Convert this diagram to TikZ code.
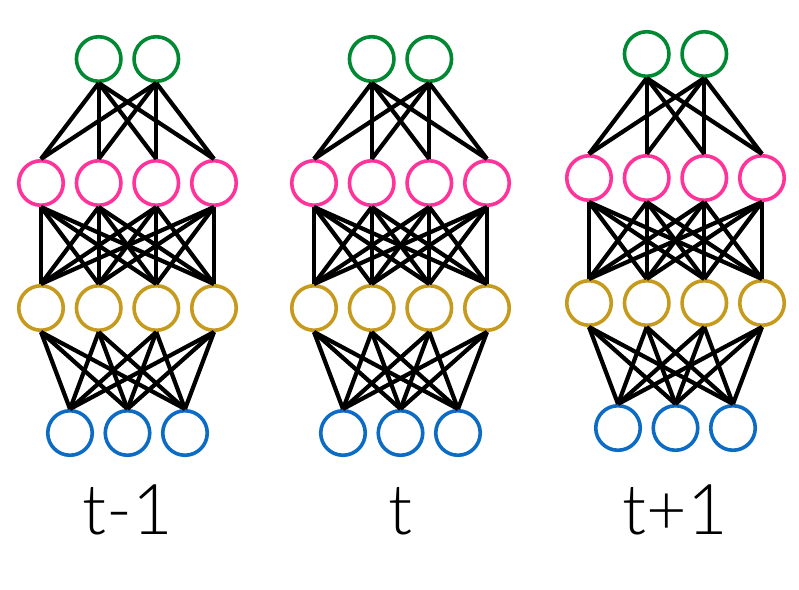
\documentclass[tikz,border=0pt]{standalone}
\usepackage{fontspec}
\setsansfont{Lato Light}
\definecolor{cG}{RGB}{0,137,50}
\definecolor{cP}{RGB}{255,51,153}
\definecolor{cY}{RGB}{198,154,28}
\definecolor{cB}{RGB}{12,108,196}
\begin{document}
\begin{tikzpicture}[x=1pt,y=-1pt,
  neuron/.style={circle,draw,line width=3.6pt,minimum size=44.5pt,inner sep=0pt},
  link/.style={line width=4.2pt,black},
  lab/.style={font=\sffamily\fontsize{70}{70}\selectfont,anchor=base,inner sep=0pt}]
\useasboundingbox (0,0) rectangle (799,589);
\foreach \k/\dx/\dy/\lab in {1/0/0/{t-1},2/273/0/{t},3/548/-5/{t+1}} {
  \begin{scope}[shift={(\dx,\dy)}]
    \foreach \i/\x in {1/98.7,2/156.3}
      \node[neuron,draw=cG] (g\k\i) at (\x,59) {};
    \foreach \i/\x in {1/41,2/98.7,3/156.3,4/214}{
      \node[neuron,draw=cP] (p\k\i) at (\x,183) {};
      \node[neuron,draw=cY] (y\k\i) at (\x,308) {};
    }
    \foreach \i/\x in {1/70,2/127.5,3/185}
      \node[neuron,draw=cB] (b\k\i) at (\x,433) {};
    \foreach \i in {1,2}
      \foreach \j in {1,...,4}
        \draw[link] (g\k\i.south) -- (p\k\j.north);
    \foreach \i in {1,...,4}
      \foreach \j in {1,...,4}
        \draw[link] (p\k\i.south) -- (y\k\j.north);
    \foreach \i in {1,...,4}
      \foreach \j in {1,2,3}
        \draw[link] (y\k\i.south) -- (b\k\j.north);
  \end{scope}
  \node[lab] (l\k) at (127.5+\dx,534) {\lab};
}
\end{tikzpicture}
\end{document}
